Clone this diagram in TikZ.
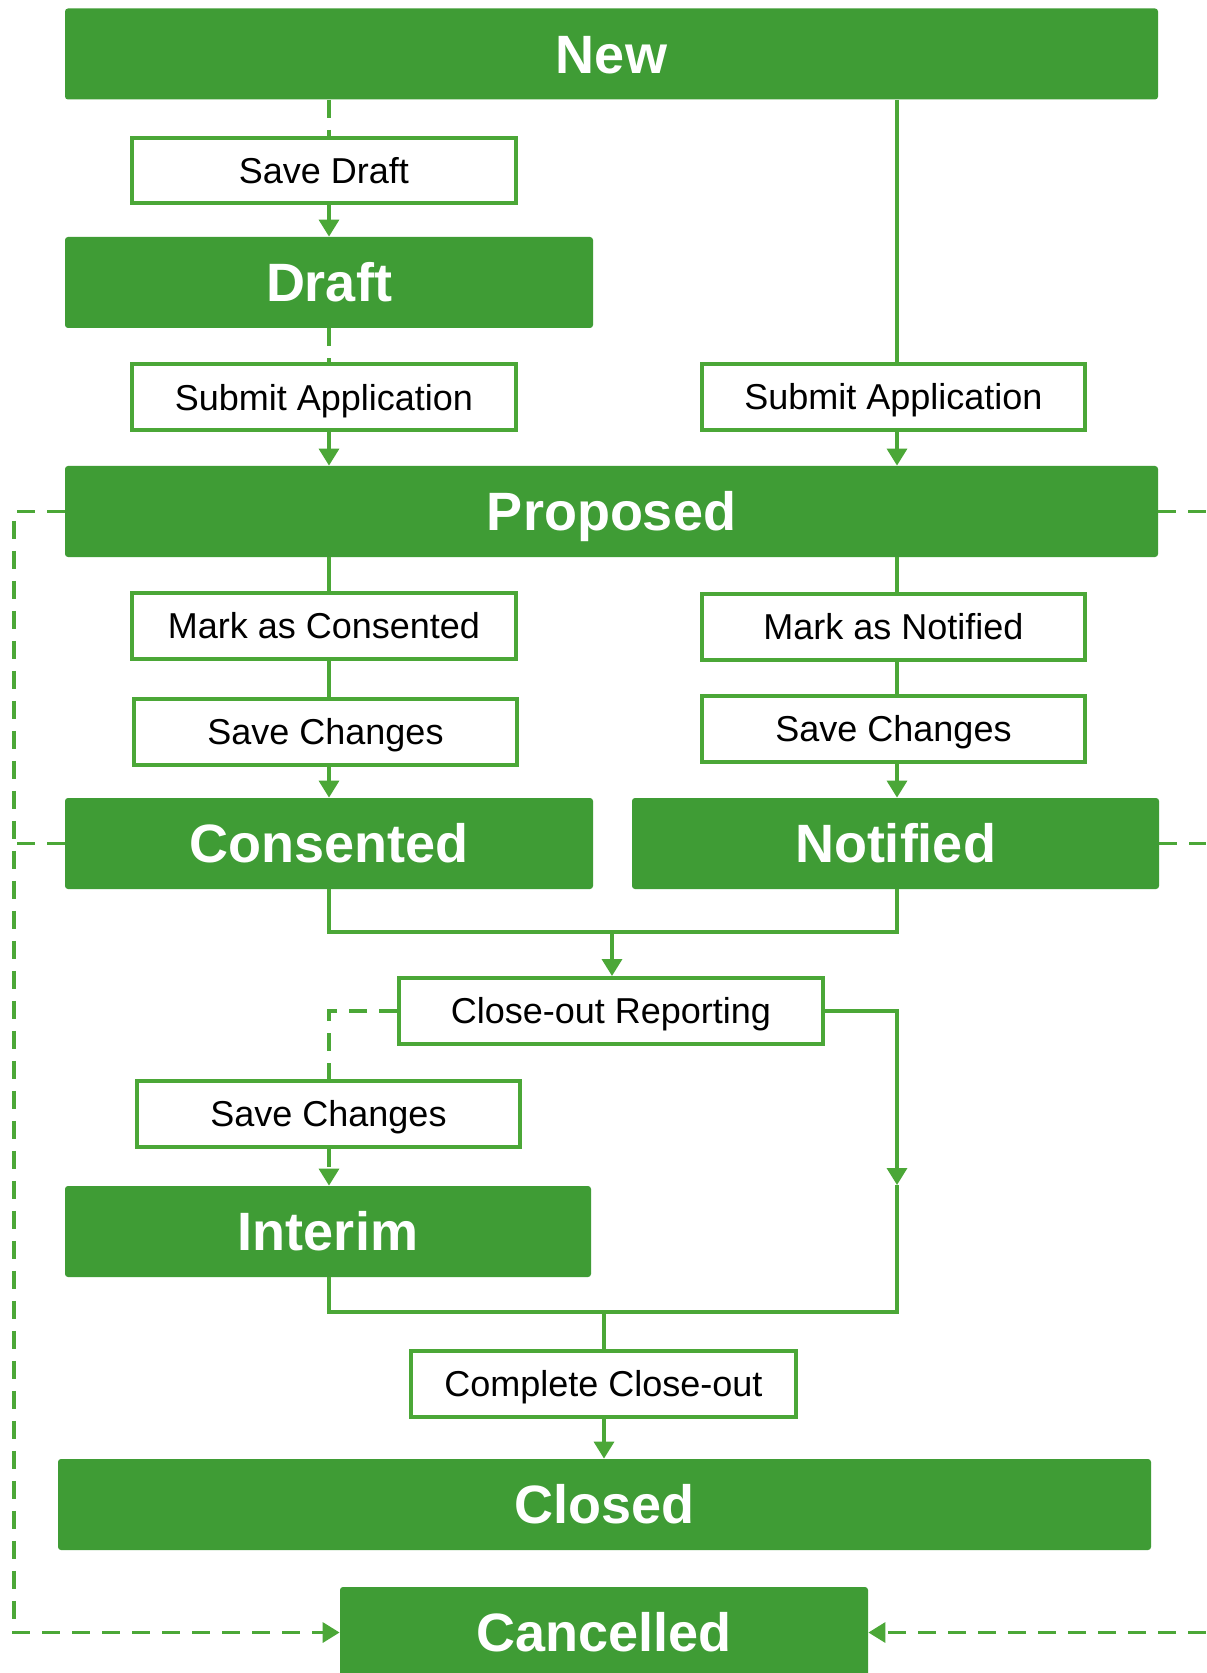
\documentclass[tikz,border=0pt]{standalone}
\usepackage{fontspec}
\setmainfont{Liberation Sans}
\usetikzlibrary{arrows.meta}
\definecolor{G}{HTML}{3F9C35}
\definecolor{L}{HTML}{4BA737}
\tikzset{
  state/.style={fill=G, rounded corners=1.5pt, text=white, inner sep=0pt,
    font=\bfseries\fontsize{27}{27}\selectfont, minimum height=45.5pt,
    text height=19.3pt, text depth=0pt},
  action/.style={draw=L, line width=2pt, fill=white, text=black, inner sep=0pt,
    font=\fontsize{18}{18}\selectfont, minimum height=33pt,
    text height=12.9pt, text depth=0pt},
  conn/.style={draw=L, line width=1.7pt},
  dconn/.style={conn, dash pattern=on 9pt off 6pt},
  tip/.style={-{Triangle[width=10pt,length=8.5pt]}}
}
\begin{document}
\begin{tikzpicture}[x=0.5pt,y=-0.5pt]
\clip (0,0) rectangle (1206,1673);
\fill[white] (0,0) rectangle (1206,1673);
% column coordinates
\coordinate (colL) at (329,0);
\coordinate (colR) at (897,0);
\coordinate (xL) at (14,0);
\coordinate (xR) at (1206,0);
\coordinate (merge1) at (612,932);
\coordinate (midR) at (897,1185);
\coordinate (merge2) at (604,1312);
% states
\node[state, minimum width=546.5pt] (new) at (611.5,54) {New};
\node[state, minimum width=264pt] (draft) at (329,282.5) {Draft};
\node[state, minimum width=546.5pt] (proposed) at (611.5,511.5) {Proposed};
\node[state, minimum width=264pt] (consented) at (329,843.5) {Consented};
\node[state, minimum width=263.5pt] (notified) at (895.5,843.5) {Notified};
\node[state, minimum width=263pt] (interim) at (328,1231.5) {Interim};
\node[state, minimum width=546.5pt] (closed) at (604.5,1504.5) {Closed};
\node[state, minimum width=264pt] (cancelled) at (604,1632.5) {Cancelled};
% actions
\node[action, minimum width=192pt, minimum height=32.5pt] (savedraft) at (324,170.5) {Save Draft};
\node[action, minimum width=192pt] (subL) at (324,397.5) {Submit Application};
\node[action, minimum width=191.5pt] (subR) at (893.5,397) {Submit Application};
\node[action, minimum width=192pt] (markC) at (324,626) {Mark as Consented};
\node[action, minimum width=191.5pt] (markN) at (893.5,626.5) {Mark as Notified};
\node[action, minimum width=191.5pt] (saveCL) at (325.5,732) {Save Changes};
\node[action, minimum width=191.5pt] (saveCR) at (893.5,728.5) {Save Changes};
\node[action, minimum width=212pt] (closeout) at (611,1011) {Close-out Reporting};
\node[action, minimum width=191.5pt] (saveCI) at (328.5,1114) {Save Changes};
\node[action, minimum width=192.5pt] (complete) at (603.5,1384) {Complete Close-out};
% New -> Draft -> Proposed (dashed)
\draw[dconn] (new.south -| colL) -- (savedraft.north -| colL);
\draw[dconn, tip] (savedraft.south -| colL) -- (draft.north -| colL);
\draw[dconn] (draft.south -| colL) -- (subL.north -| colL);
\draw[dconn, tip] (subL.south -| colL) -- (proposed.north -| colL);
% New -> Proposed (solid)
\draw[conn] (new.south -| colR) -- (subR.north -| colR);
\draw[conn, tip] (subR.south -| colR) -- (proposed.north -| colR);
% Proposed -> Consented
\draw[conn] (proposed.south -| colL) -- (markC.north -| colL);
\draw[conn] (markC.south -| colL) -- (saveCL.north -| colL);
\draw[conn, tip] (saveCL.south -| colL) -- (consented.north -| colL);
% Proposed -> Notified
\draw[conn] (proposed.south -| colR) -- (markN.north -| colR);
\draw[conn] (markN.south -| colR) -- (saveCR.north -| colR);
\draw[conn, tip] (saveCR.south -| colR) -- (notified.north -| colR);
% merge to Close-out Reporting
\draw[conn] (consented.south -| colL) |- (merge1) -| (notified.south -| colR);
\draw[conn, tip] (merge1) -- (closeout.north -| merge1);
% Close-out -> Interim (dashed)
\draw[dconn] (closeout.west) -| (saveCI.north -| colL);
\draw[dconn, tip] (saveCI.south -| colL) -- (interim.north -| colL);
% Close-out -> right path
\draw[conn, tip] (closeout.east) -| (midR);
\draw[conn] (midR) |- (merge2);
\draw[conn] (interim.south -| colL) |- (merge2);
\draw[conn] (merge2) -- (complete.north -| merge2);
\draw[conn, tip] (complete.south -| merge2) -- (closed.north -| merge2);
% Cancel paths (dashed)
\draw[dconn, tip] (proposed.west) -| (xL |- cancelled.west) -- (cancelled.west);
\draw[dconn] (consented.west) -- (consented.west -| xL);
\draw[dconn] (proposed.east) -- (proposed.east -| xR);
\draw[dconn] (notified.east) -- (notified.east -| xR);
\draw[dconn, tip] (cancelled.east -| xR) -- (cancelled.east);
\end{tikzpicture}
\end{document}
